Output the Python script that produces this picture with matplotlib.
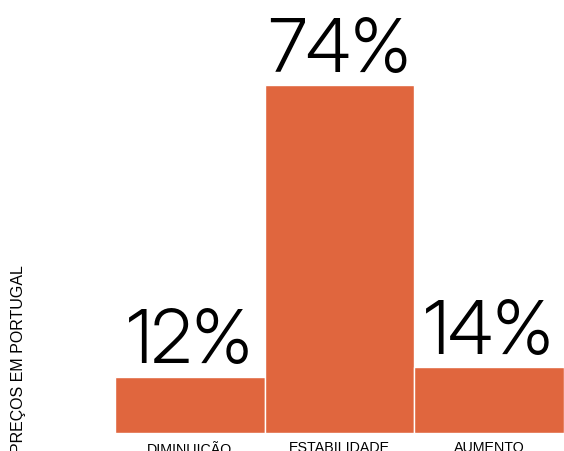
import matplotlib.pyplot as plt

categories = ["DIMINUIÇÃO", "ESTABILIDADE", "AUMENTO"]
values = [12, 74, 14]
labels = ["12%", "74%", "14%"]

bar_color = "#e0663e"

fig = plt.figure(figsize=(5.64, 4.52), dpi=100)
ax = fig.add_axes([115/564, 18/452, 449/564, 434/452])

x = range(len(categories))
ax.bar(x, values, width=1.0, color=bar_color, edgecolor="white", linewidth=1)
ax.set_xlim(-0.5, 2.5)
ax.set_ylim(0, 92.3)

# big percentage labels above the bars
for xi, v, lab in zip(x, values, labels):
    ax.text(xi, v + 3.0, lab, ha="center", va="baseline", fontsize=53,
            family=["Inter Display", "Inter", "Liberation Sans"], fontweight=300,
            color="black")

ax.set_xticks(list(x))
ax.set_xticklabels(categories, fontsize=10.3, family=["Liberation Sans", "DejaVu Sans"])
ax.tick_params(axis="x", length=0, pad=5)
ax.set_yticks([])
for s in ax.spines.values():
    s.set_visible(False)

fig.text(19/564, 1 - 265/452, "PREÇOS EM PORTUGAL", rotation=90, ha="center", va="top",
         fontsize=11.5, family=["Liberation Sans", "DejaVu Sans"])

fig.savefig("out.png", dpi=100)
